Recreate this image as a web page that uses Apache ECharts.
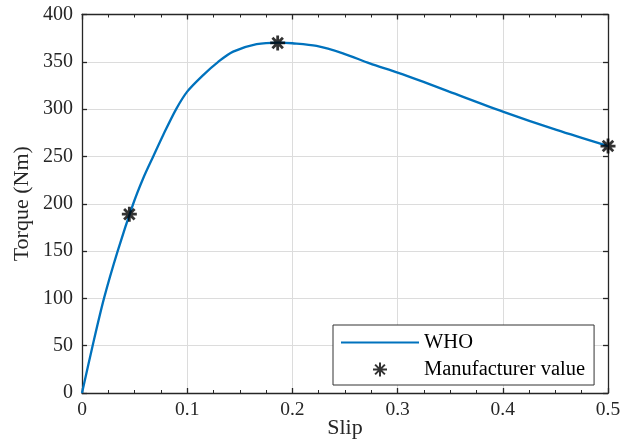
<!DOCTYPE html>
<html>
<head>
<meta charset="utf-8">
<script src="https://cdn.jsdelivr.net/npm/echarts@6/dist/echarts.min.js"></script>
<style>
  html, body { margin: 0; padding: 0; background: #fff; }
  #chart { width: 634px; height: 439px; }
</style>
</head>
<body>
<div id="chart"></div>
<script>
// slip vs torque curve
var slip = [0, 0.0101, 0.0209, 0.0339, 0.0487, 0.0582, 0.0677, 0.0772, 0.0895, 0.1, 0.1152, 0.1295, 0.1437, 0.166, 0.1865, 0.2, 0.223, 0.248, 0.2735, 0.3, 0.324, 0.349, 0.4, 0.451, 0.5];
var torque = [0, 50, 100, 150, 200, 227, 250, 272.7, 300, 318.5, 336, 350, 360.8, 368.6, 370.3, 369.6, 366.8, 359, 348.4, 338.6, 329, 318.5, 297.4, 278, 261];

// manufacturer points
var mfSlip = [0.045, 0.186, 0.5];
var mfTorque = [189, 370, 261];

var xTicks = [0, 0.1, 0.2, 0.3, 0.4, 0.5];
var yTicks = [0, 50, 100, 150, 200, 250, 300, 350, 400];

var font = 'Liberation Serif';
var axisColor = '#262626';
var starPath = 'path://M0,-10L0,10M-10,0L10,0M-7,-7L7,7M-7,7L7,-7';

var whoData = [];
for (var i = 0; i < slip.length; i++) {
    whoData.push([slip[i], torque[i]]);
}
var mfData = [];
for (var j = 0; j < mfSlip.length; j++) {
    mfData.push([mfSlip[j], mfTorque[j]]);
}

function xAxisBase(pos) {
    return {
        type: 'value',
        position: pos,
        min: xTicks[0],
        max: xTicks[xTicks.length - 1],
        interval: 0.1,
        axisLine: {show: true, onZero: false, lineStyle: {color: axisColor, width: 1.3}},
        axisTick: {show: true, inside: true, length: 5, lineStyle: {color: axisColor, width: 1.3}},
        minorTick: {show: true, splitNumber: 4, length: 3, lineStyle: {color: axisColor, width: 1}},
        splitLine: {show: false}
    };
}

function yAxisBase(pos) {
    return {
        type: 'value',
        position: pos,
        min: yTicks[0],
        max: yTicks[yTicks.length - 1],
        interval: 50,
        axisLine: {show: true, onZero: false, lineStyle: {color: axisColor, width: 1.3}},
        axisTick: {show: true, inside: true, length: 5, lineStyle: {color: axisColor, width: 1.3}},
        splitLine: {show: false}
    };
}

var xBottom = xAxisBase('bottom');
xBottom.name = 'Slip';
xBottom.nameLocation = 'middle';
xBottom.nameGap = 24;
xBottom.nameMoveOverlap = false;
xBottom.nameTextStyle = {fontFamily: font, fontSize: 22, color: axisColor};
xBottom.axisLabel = {fontFamily: font, fontSize: 19.5, color: axisColor, margin: 7,
    formatter: function (v) { return v === 0 ? '0' : String(+v.toFixed(1)); }};
xBottom.splitLine = {show: true, lineStyle: {color: '#dcdcdc', width: 1}};

var xTop = xAxisBase('top');
xTop.axisLabel = {show: false};

var yLeft = yAxisBase('left');
yLeft.name = 'Torque (Nm)';
yLeft.nameLocation = 'middle';
yLeft.nameGap = 49;
yLeft.nameMoveOverlap = false;
yLeft.nameTextStyle = {fontFamily: font, fontSize: 22, color: axisColor};
yLeft.axisLabel = {fontFamily: font, fontSize: 20, color: axisColor, margin: 9};
yLeft.splitLine = {show: true, lineStyle: {color: '#dcdcdc', width: 1}};

var yRight = yAxisBase('right');
yRight.axisLabel = {show: false};

var chart = echarts.init(document.getElementById('chart'));
chart.setOption({
    animation: false,
    backgroundColor: '#fff',
    grid: {left: 82, right: 26, top: 14.5, bottom: 46, containLabel: false, outerBoundsMode: 'none'},
    xAxis: [xBottom, xTop],
    yAxis: [yLeft, yRight],
    legend: {
        orient: 'vertical',
        left: 333,
        top: 325,
        padding: [7, 9, 5, 8],
        itemGap: 6,
        itemWidth: 78,
        itemHeight: 14,
        backgroundColor: '#fff',
        borderColor: '#333',
        borderWidth: 1,
        borderRadius: 0,
        textStyle: {fontFamily: font, fontSize: 20.5, color: '#000', padding: [0, 0, 0, 0]},
        data: [
            {name: 'WHO', icon: 'path://M0,0L78,0L78,2.2L0,2.2Z'},
            {name: 'Manufacturer value'}
        ]
    },
    series: [
        {
            name: 'WHO',
            type: 'line',
            data: whoData,
            smooth: 0.3,
            showSymbol: false,
            lineStyle: {color: '#0072BD', width: 2.3},
            itemStyle: {color: '#0072BD'},
            z: 2
        },
        {
            name: 'Manufacturer value',
            type: 'scatter',
            data: mfData,
            symbol: starPath,
            symbolSize: 15,
            itemStyle: {color: 'rgba(0,0,0,0)', borderColor: '#000', borderWidth: 2.8},
            z: 3
        }
    ]
});
</script>
</body>
</html>
